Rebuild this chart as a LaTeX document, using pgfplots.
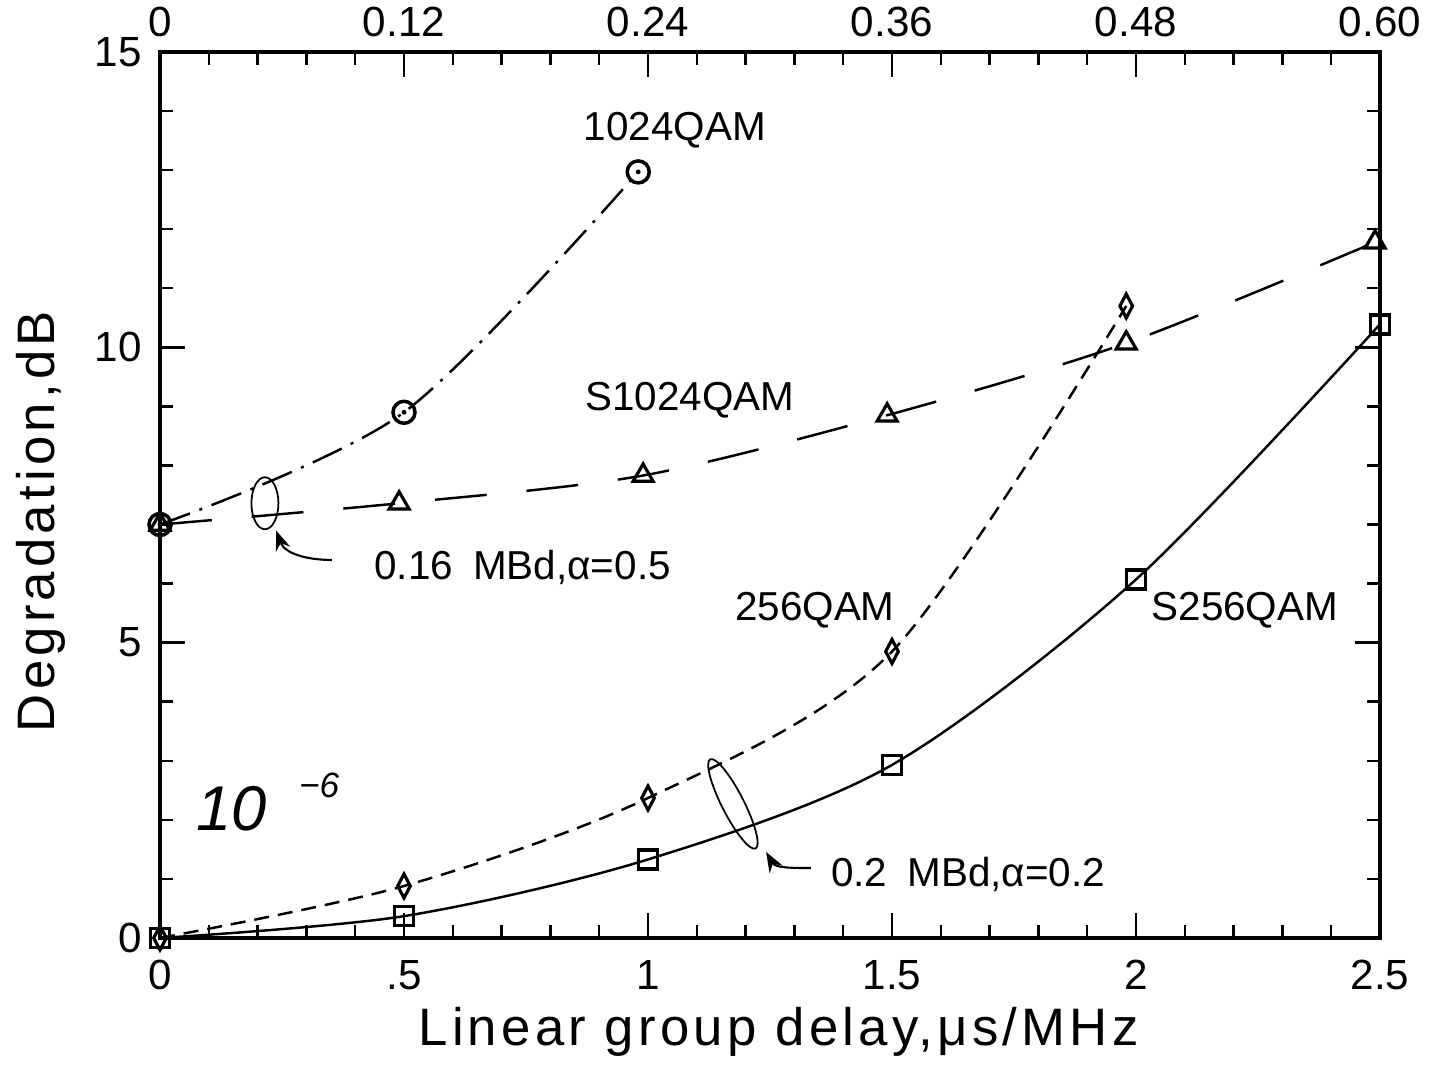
\documentclass[border=0pt]{standalone}
\usepackage{fontspec}
\setmainfont{Liberation Sans}
\usepackage{pgfplots}
\pgfplotsset{compat=1.18}
\usetikzlibrary{arrows.meta}
\pgfdeclareplotmark{odot}{%
  \pgfpathcircle{\pgfpoint{0pt}{0pt}}{\pgfplotmarksize}\pgfusepathqstroke
  \pgfpathcircle{\pgfpoint{0pt}{0pt}}{0.22\pgfplotmarksize}\pgfusepathqfill}
\newcommand\annfont{\fontsize{11.5}{13}\selectfont}
\newcommand\labfont{\fontsize{15}{17}\selectfont\addfontfeature{LetterSpace=8}}
\begin{document}
\begin{tikzpicture}
\useasboundingbox (0,0) rectangle (14.39cm,10.65cm);
\begin{axis}[
  at={(1.60cm,1.27cm)}, anchor=south west,
  scale only axis, width=12.2cm, height=8.86cm,
  xmin=0, xmax=2.5, ymin=0, ymax=15,
  xtick={0,0.5,1,1.5,2,2.5},
  xticklabels={0,.5,1,1.5,2,2.5},
  minor x tick num=4,
  ytick={0,5,10,15},
  minor y tick num=4,
  xtick pos=left, ytick pos=both, yticklabel pos=left,
  tick align=inside,
  major tick length=2.5mm, minor tick length=1.3mm,
  axis line style={line width=0.9pt},
  every tick/.style={line width=0.7pt, black},
  tick label style={font=\fontsize{12}{14}\selectfont},
  /pgf/number format/assume math mode=true,
  xticklabel style={yshift=-1mm},
  yticklabel style={xshift=-0.6mm},
  xlabel={\labfont Linear group delay,μs/MHz},
  ylabel={\labfont Degradation,dB},
  xlabel style={at={(axis description cs:0.507,-0.106)}, anchor=center},
  ylabel style={at={(axis description cs:-0.098,0.47)}, anchor=center},
  every axis plot/.append style={line width=0.7pt, black},
  clip=false,
]
% 1024QAM
\addplot[smooth, dash pattern=on 3.2mm off 1mm on 0.3mm off 1mm, mark=odot, mark size=1.1mm, mark options={solid, line width=1pt}]
  coordinates {(0,7.0) (0.5,8.9) (0.98,12.97)};
% S1024QAM
\addplot[smooth, dash pattern=on 5.2mm off 4mm, mark=triangle, mark size=1.15mm, mark options={solid, line width=0.9pt}]
  coordinates {(0,7.0) (0.49,7.36) (0.99,7.83) (1.49,8.85) (1.98,10.07) (2.49,11.78)};
% 256QAM
\addplot[smooth, dash pattern=on 1.5mm off 0.9mm, mark=diamond, mark size=1.2mm, mark options={solid, line width=0.9pt, xscale=0.7}]
  coordinates {(0,0) (0.5,0.88) (1.0,2.37) (1.5,4.85) (1.98,10.7)};
% S256QAM
\addplot[smooth, solid, mark=square, mark size=0.95mm, mark options={solid, line width=1pt}]
  coordinates {(0,0) (0.5,0.37) (1.0,1.33) (1.5,2.93) (2.0,6.07) (2.5,10.39)};

\node[font=\annfont] at (axis cs:1.055,13.68) {1024QAM};
\node[font=\annfont] at (axis cs:1.086,9.11) {S1024QAM};
\node[font=\annfont, anchor=west] at (axis cs:0.414,6.28) {0.16\enspace MBd,α=0.5};
\node[font=\annfont] at (axis cs:1.342,5.55) {256QAM};
\node[font=\annfont] at (axis cs:2.223,5.55) {S256QAM};
\node[font=\annfont, anchor=west] at (axis cs:1.35,1.07) {0.2\enspace MBd,α=0.2};
\node[font=\itshape\fontsize{18}{20}\selectfont, anchor=west] at (axis cs:0.05,2.3) {10\hspace{3.2mm}\raisebox{3.3mm}{\fontsize{10}{12}\selectfont −6}};

\coordinate (e1) at (axis cs:0.215,7.36);
\coordinate (a1s) at (axis cs:0.352,6.40);
\coordinate (a1e) at (axis cs:0.238,6.90);
\coordinate (e2) at (axis cs:1.174,2.27);
\coordinate (a2s) at (axis cs:1.334,1.185);
\coordinate (a2e) at (axis cs:1.242,1.456);
\end{axis}
\begin{axis}[
  at={(1.60cm,1.27cm)}, anchor=south west,
  scale only axis, width=12.2cm, height=8.86cm,
  xmin=0, xmax=0.6, ymin=0, ymax=15,
  axis x line*=top, axis y line=none,
  xtick={0,0.12,0.24,0.36,0.48,0.60},
  xticklabels={0,0.12,0.24,0.36,0.48,0.60},
  minor x tick num=4,
  tick align=inside,
  major tick length=2.5mm, minor tick length=1.3mm,
  axis line style={line width=0.9pt, -},
  every tick/.style={line width=0.7pt, black},
  tick label style={font=\fontsize{12}{14}\selectfont},
  xticklabel style={yshift=0.3mm},
  /pgf/number format/assume math mode=true,
]
\end{axis}
\draw[line width=0.5pt] (e1) ellipse [x radius=1.35mm, y radius=2.6mm];
\draw[line width=0.5pt, rotate around={27:(e2)}] (e2) ellipse [x radius=1.1mm, y radius=5mm];
\draw[line width=0.6pt, -{Stealth[length=2mm]}] (a1s) to[out=180, in=-70] (a1e);
\draw[line width=0.6pt, -{Stealth[length=2mm]}] (a2s) to[out=180, in=-60] (a2e);
\end{tikzpicture}
\end{document}
